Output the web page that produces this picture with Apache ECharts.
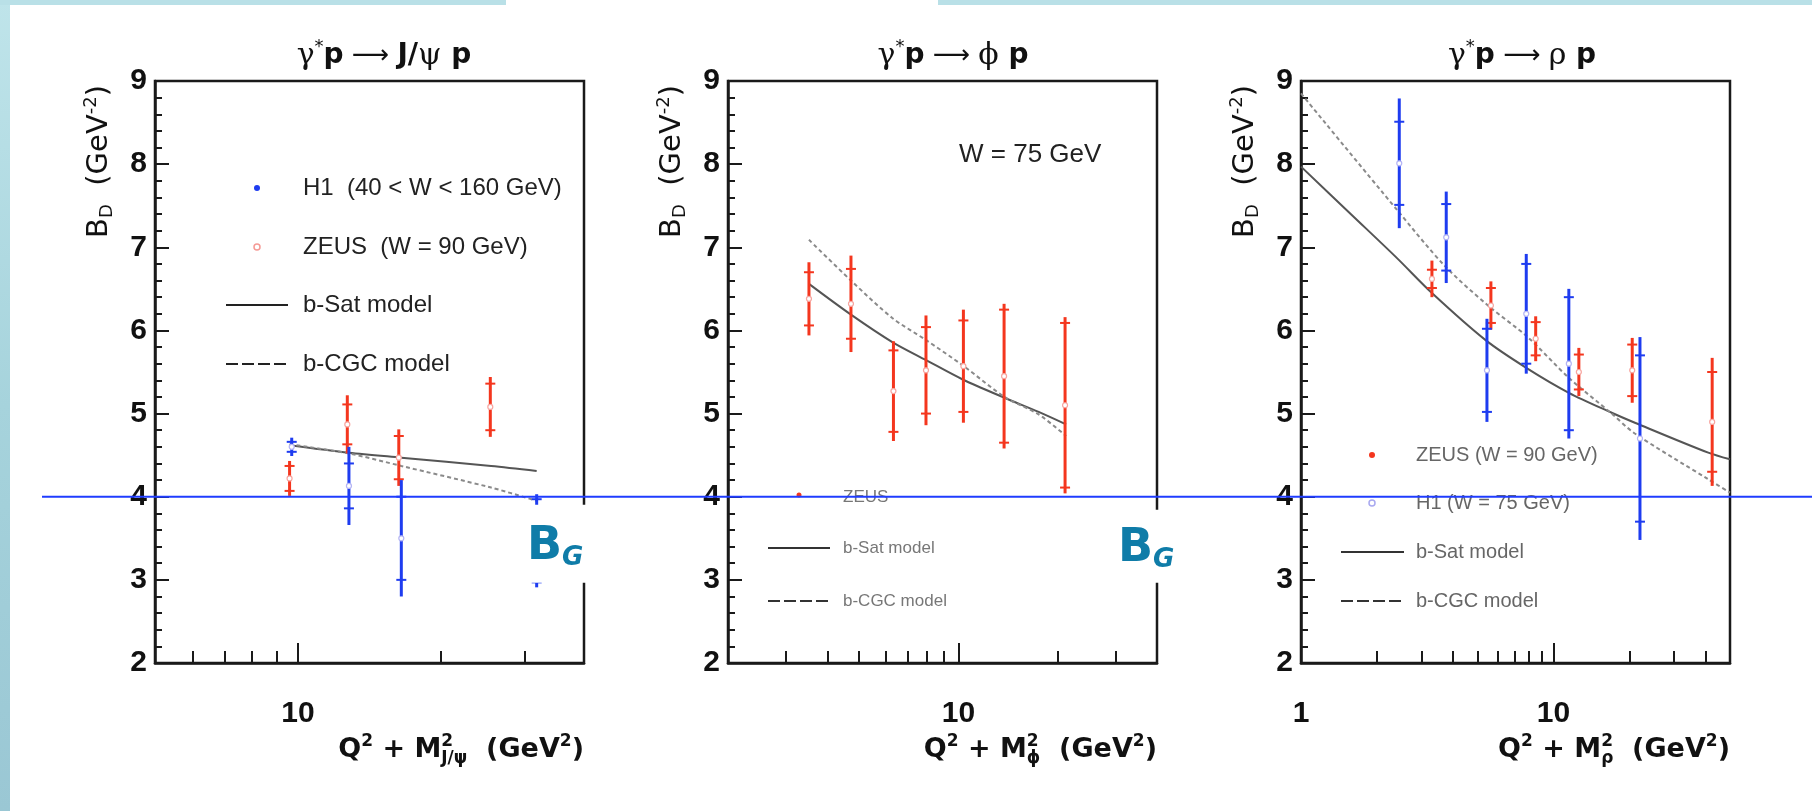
<!DOCTYPE html>
<html><head><meta charset="utf-8">
<script src="https://cdn.jsdelivr.net/npm/echarts@6/dist/echarts.min.js"></script>
<style>html,body{margin:0;padding:0;background:#fff;}#c{width:1812px;height:811px;}</style>
</head><body><div id="c"></div>
<script>
// ---------- axes / ticks ----------
const X_RANGE_JPSI = [5, 40];
const X_RANGE_PHI = [2, 40];
const X_RANGE_RHO = [1, 50];
const Y_RANGE = [2, 9];
const minorTicksJpsi = [6, 7, 8, 9, 20, 30];
const minorTicksPhi = [3, 4, 5, 6, 7, 8, 9, 20, 30];
const minorTicksRho = [2, 3, 4, 5, 6, 7, 8, 9, 20, 30, 40];
const majorTicks = [10];
const xLabelsJpsi = [10];
const xLabelsPhi = [10];
const xLabelsRho = [1, 10];
const BG_LEVEL = 4;

// ---------- J/psi ----------
const jpsiH1X = [9.7, 12.8, 16.5, 31.8];
const jpsiH1Y = [4.60, 4.13, 3.50, 3.47];
const jpsiH1Stat = [0.06, 0.27, 0.50, 0.50];
const jpsiH1Tot = [0.11, 0.47, 0.70, 0.56];
const jpsiZeusX = [9.6, 12.7, 16.3, 25.4];
const jpsiZeusY = [4.22, 4.87, 4.47, 5.08];
const jpsiZeusStat = [0.15, 0.24, 0.26, 0.28];
const jpsiZeusTot = [0.21, 0.35, 0.34, 0.36];
const jpsiModelX = [9.6, 12.8, 16.5, 25.5, 31.8];
const jpsiSat = [4.62, 4.53, 4.47, 4.37, 4.31];
const jpsiCgc = [4.63, 4.52, 4.37, 4.11, 3.95];

// ---------- phi ----------
const phiZeusX = [3.52, 4.72, 6.35, 7.97, 10.35, 13.75, 21.05];
const phiZeusY = [6.38, 6.32, 5.27, 5.52, 5.57, 5.45, 5.10];
const phiZeusStat = [0.32, 0.42, 0.49, 0.52, 0.55, 0.80, 0.99];
const phiZeusTot = [0.44, 0.58, 0.60, 0.66, 0.68, 0.87, 1.06];
const phiModelX = [3.52, 4.72, 6.3, 8.0, 10.3, 13.8, 17.5, 21.2];
const phiSat = [6.56, 6.19, 5.86, 5.64, 5.41, 5.19, 5.02, 4.87];
const phiCgc = [7.09, 6.60, 6.15, 5.88, 5.58, 5.20, 4.99, 4.73];

// ---------- rho ----------
const rhoH1X = [2.45, 3.76, 5.45, 7.8, 11.5, 22];
const rhoH1Y = [8.01, 7.12, 5.52, 6.20, 5.60, 4.70];
const rhoH1Stat = [0.50, 0.40, 0.50, 0.60, 0.80, 1.00];
const rhoH1Tot = [0.78, 0.55, 0.62, 0.72, 0.90, 1.22];
const rhoZeusX = [3.3, 5.65, 8.5, 12.6, 20.5, 42.5];
const rhoZeusY = [6.62, 6.30, 5.90, 5.50, 5.52, 4.90];
const rhoZeusStat = [0.11, 0.21, 0.20, 0.21, 0.31, 0.60];
const rhoZeusTot = [0.22, 0.29, 0.27, 0.29, 0.39, 0.77];
const rhoSatX = [1, 1.6, 2.4, 3.3, 5.4, 7.8, 11.5, 17, 21, 41, 50];
const rhoSat = [7.97, 7.38, 6.87, 6.45, 5.88, 5.55, 5.25, 5.01, 4.89, 4.53, 4.45];
const rhoCgcX = [1, 2.4, 3.7, 5.5, 7.9, 11.5, 17, 21, 41, 50];
const rhoCgc = [8.85, 7.45, 6.78, 6.30, 5.92, 5.43, 5.00, 4.76, 4.21, 4.05];

// ---------- text ----------
const titles = [
  '{g|γ}{s|*}{b|p}{a| ⟶ }{b|J/}{g|ψ}{b| p}',
  '{g|γ}{s|*}{b|p}{a| ⟶ }{g|ϕ}{b| p}',
  '{g|γ}{s|*}{b|p}{a| ⟶ }{g|ρ}{b| p}'
];
const xTitles = [
  '{n|Q}{sp|2}{n| + M}{sz|2}{sb|J/ψ}{n|  (GeV}{sp|2}{n|)}',
  '{n|Q}{sp|2}{n| + M}{sz|2}{sb|ϕ}{n|  (GeV}{sp|2}{n|)}',
  '{n|Q}{sp|2}{n| + M}{sz|2}{sb|ρ}{n|  (GeV}{sp|2}{n|)}'
];
const yTitle = '{n|B}{sb|D}{n|  (GeV}{sp|-2}{n|)}';

// ---------- layout ----------
const GRIDS = [{left: 155, width: 429}, {left: 728, width: 429}, {left: 1301, width: 429}];
const TOP = 81, HEIGHT = 582;
const RED = '#f4361e', BLUE = '#1e3cf0', AX = '#1a1a1a';
const FF = '"Liberation Sans", Arial, sans-serif';
const DV = '"DejaVu Sans", sans-serif';

const chart = echarts.init(document.getElementById('c'), null, {renderer: 'canvas'});

function errSeries(gi, xs, ys, st, tt, color, ring) {
  return {
    type: 'custom', xAxisIndex: gi, yAxisIndex: gi, z: 5,
    data: xs.map((x, i) => [x, ys[i], st[i], tt[i]]),
    renderItem(params, api) {
      const x = api.value(0), y = api.value(1), s = api.value(2), t = api.value(3);
      const top = api.coord([x, y + t]), bot = api.coord([x, y - t]);
      const s1 = api.coord([x, y + s]), s2 = api.coord([x, y - s]), c = api.coord([x, y]);
      const ls = {stroke: color, lineWidth: 2};
      return {type: 'group', children: [
        {type: 'line', shape: {x1: top[0], y1: top[1], x2: bot[0], y2: bot[1]}, style: {stroke: color, lineWidth: 3}},
        {type: 'line', shape: {x1: s1[0] - 5, y1: s1[1], x2: s1[0] + 5, y2: s1[1]}, style: ls},
        {type: 'line', shape: {x1: s2[0] - 5, y1: s2[1], x2: s2[0] + 5, y2: s2[1]}, style: ls},
        {type: 'circle', shape: {cx: c[0], cy: c[1], r: 2.5}, style: {fill: '#fff', stroke: ring, lineWidth: 1.2}}
      ]};
    }
  };
}
function lineSeries(gi, xs, ys, dashed) {
  return {
    type: 'line', xAxisIndex: gi, yAxisIndex: gi, smooth: 0.3, showSymbol: false, silent: true, z: 3,
    data: xs.map((x, i) => [x, ys[i]]),
    lineStyle: dashed ? {color: '#8a8a8a', width: 2, type: [4, 3]} : {color: '#555', width: 2}
  };
}

const ranges = [X_RANGE_JPSI, X_RANGE_PHI, X_RANGE_RHO];
const minors = [minorTicksJpsi, minorTicksPhi, minorTicksRho];
const labels = [xLabelsJpsi, xLabelsPhi, xLabelsRho];

const grid = GRIDS.map(g => ({left: g.left, width: g.width, top: TOP, height: HEIGHT, show: true,
  borderColor: AX, borderWidth: 2.5, backgroundColor: 'transparent', containLabel: false}));

const xAxis = [];
for (let i = 0; i < 3; i++) {
  xAxis.push({type: 'log', logBase: 10, gridIndex: i, position: 'bottom', min: ranges[i][0], max: ranges[i][1],
    axisLine: {show: true, onZero: false, lineStyle: {color: AX, width: 2.5}},
    axisTick: {show: true, inside: true, length: 20, customValues: majorTicks, lineStyle: {color: AX, width: 2}},
    minorTick: {show: false}, splitLine: {show: false},
    axisLabel: {show: true, customValues: labels[i], showMinLabel: true, margin: 36,
      fontSize: 30, fontWeight: 'bold', color: '#111', fontFamily: FF, formatter: v => String(Math.round(v))}
  });
}
for (let i = 0; i < 3; i++) {
  xAxis.push({type: 'log', logBase: 10, gridIndex: i, position: 'bottom', offset: 0, min: ranges[i][0], max: ranges[i][1],
    axisLine: {show: false, onZero: false},
    axisTick: {show: true, inside: true, length: 12, customValues: minors[i], lineStyle: {color: AX, width: 2}},
    axisLabel: {show: false}, splitLine: {show: false}, minorTick: {show: false}
  });
}
const yAxis = [0, 1, 2].map(i => ({type: 'value', gridIndex: i, min: Y_RANGE[0], max: Y_RANGE[1], interval: 1,
  axisLine: {show: true, lineStyle: {color: AX, width: 2.5}},
  axisTick: {show: true, inside: true, length: 14, lineStyle: {color: AX, width: 2}},
  minorTick: {show: true, splitNumber: 5, length: 7, lineStyle: {color: AX, width: 2}},
  splitLine: {show: false},
  axisLabel: {fontSize: 30, fontWeight: 'bold', color: '#111', margin: 8, fontFamily: FF}
}));

const series = [
  lineSeries(0, jpsiModelX, jpsiSat, false),
  lineSeries(0, jpsiModelX, jpsiCgc, true),
  errSeries(0, jpsiZeusX, jpsiZeusY, jpsiZeusStat, jpsiZeusTot, RED, '#f7a5a0'),
  errSeries(0, jpsiH1X, jpsiH1Y, jpsiH1Stat, jpsiH1Tot, BLUE, '#b4b4f4'),
  lineSeries(1, phiModelX, phiSat, false),
  lineSeries(1, phiModelX, phiCgc, true),
  errSeries(1, phiZeusX, phiZeusY, phiZeusStat, phiZeusTot, RED, '#f7a5a0'),
  lineSeries(2, rhoSatX, rhoSat, false),
  lineSeries(2, rhoCgcX, rhoCgc, true),
  errSeries(2, rhoZeusX, rhoZeusY, rhoZeusStat, rhoZeusTot, RED, '#f7a5a0'),
  errSeries(2, rhoH1X, rhoH1Y, rhoH1Stat, rhoH1Tot, BLUE, '#b4b4f4')
];

chart.setOption({backgroundColor: '#fff', animation: false, grid, xAxis, yAxis, series});

// ---------- decorations ----------
const y4 = chart.convertToPixel({yAxisIndex: 0}, BG_LEVEL);
const titleRich = {
  g: {font: '30px "DejaVu Serif", serif', fill: '#111', lineHeight: 36},
  s: {font: '18px ' + DV, fill: '#111', verticalAlign: 'top', lineHeight: 16},
  b: {font: 'bold 28px ' + DV, fill: '#111', lineHeight: 36},
  a: {font: '26px ' + DV, fill: '#111', lineHeight: 36}
};
const xtRich = {
  n: {font: 'bold 27px ' + DV, fill: '#111', lineHeight: 34, align: 'left'},
  sp: {font: 'bold 17px ' + DV, fill: '#111', verticalAlign: 'top', lineHeight: 16, align: 'left'},
  sz: {font: 'bold 17px ' + DV, fill: '#111', verticalAlign: 'top', lineHeight: 16, width: 0, align: 'left'},
  sb: {font: 'bold 17px ' + DV, fill: '#111', verticalAlign: 'bottom', lineHeight: 14, align: 'left'}
};
const ytRich = {
  n: {font: '29px ' + DV, fill: '#111', lineHeight: 34},
  sp: {font: '18px ' + DV, fill: '#111', verticalAlign: 'top', lineHeight: 16},
  sb: {font: '18px ' + DV, fill: '#111', verticalAlign: 'bottom', lineHeight: 15}
};
const titleX = [384, 953, 1522];
const els = [];
// slide background strips
els.push({type: 'rect', shape: {x: 0, y: 0, width: 10, height: 811}, z: 1,
  style: {fill: new echarts.graphic.LinearGradient(0, 0, 0, 1, [{offset: 0, color: '#bfe4ea'}, {offset: 0.5, color: '#a6d3dc'}, {offset: 1, color: '#9ac7d4'}])}});
els.push({type: 'rect', shape: {x: 0, y: 0, width: 506, height: 5}, z: 1, style: {fill: '#b9e0e7'}});
els.push({type: 'rect', shape: {x: 938, y: 0, width: 874, height: 5}, z: 1, style: {fill: '#b9e0e7'}});
for (let i = 0; i < 3; i++) {
  const g = GRIDS[i];
  els.push({type: 'text', x: titleX[i], y: 56, z: 20, style: {text: titles[i], rich: titleRich, align: 'center', verticalAlign: 'middle'}});
  els.push({type: 'text', x: g.left + g.width, y: 750, z: 20, style: {text: xTitles[i], rich: xtRich, align: 'right', verticalAlign: 'middle'}});
  els.push({type: 'text', x: g.left - 56, y: 85, rotation: Math.PI / 2, z: 20, style: {text: yTitle, rich: ytRich, align: 'right', verticalAlign: 'middle'}});
}
// legend plot 1
const L1 = {font: '24px ' + FF, fill: '#222'};
els.push({type: 'circle', shape: {cx: 257, cy: 188, r: 3}, z: 20, style: {fill: BLUE}});
els.push({type: 'text', x: 303, y: 188, z: 20, style: Object.assign({text: 'H1  (40 < W < 160 GeV)', verticalAlign: 'middle'}, L1)});
els.push({type: 'circle', shape: {cx: 257, cy: 247, r: 3}, z: 20, style: {fill: '#fff', stroke: '#f59a95', lineWidth: 1.5}});
els.push({type: 'text', x: 303, y: 247, z: 20, style: Object.assign({text: 'ZEUS  (W = 90 GeV)', verticalAlign: 'middle'}, L1)});
els.push({type: 'line', shape: {x1: 226, y1: 305, x2: 288, y2: 305}, z: 20, style: {stroke: '#222', lineWidth: 2}});
els.push({type: 'text', x: 303, y: 305, z: 20, style: Object.assign({text: 'b-Sat model', verticalAlign: 'middle'}, L1)});
els.push({type: 'line', shape: {x1: 226, y1: 364, x2: 288, y2: 364}, z: 20, style: {stroke: '#222', lineWidth: 2, lineDash: [12, 4]}});
els.push({type: 'text', x: 303, y: 364, z: 20, style: Object.assign({text: 'b-CGC model', verticalAlign: 'middle'}, L1)});
// legend plot 2
const L2 = {font: '17px ' + FF, fill: '#777'};
els.push({type: 'text', x: 959, y: 155, z: 20, style: {text: 'W = 75 GeV', font: '26px ' + FF, fill: '#222', verticalAlign: 'middle'}});
els.push({type: 'circle', shape: {cx: 799, cy: 495, r: 2.5}, z: 20, style: {fill: RED}});
els.push({type: 'text', x: 843, y: 497, z: 20, style: Object.assign({text: 'ZEUS', verticalAlign: 'middle'}, L2)});
els.push({type: 'line', shape: {x1: 768, y1: 548, x2: 830, y2: 548}, z: 20, style: {stroke: '#333', lineWidth: 2}});
els.push({type: 'text', x: 843, y: 548, z: 20, style: Object.assign({text: 'b-Sat model', verticalAlign: 'middle'}, L2)});
els.push({type: 'line', shape: {x1: 768, y1: 601, x2: 830, y2: 601}, z: 20, style: {stroke: '#333', lineWidth: 2, lineDash: [12, 4]}});
els.push({type: 'text', x: 843, y: 601, z: 20, style: Object.assign({text: 'b-CGC model', verticalAlign: 'middle'}, L2)});
// legend plot 3
const L3 = {font: '20px ' + FF, fill: '#666'};
els.push({type: 'circle', shape: {cx: 1372, cy: 455, r: 3}, z: 20, style: {fill: RED}});
els.push({type: 'text', x: 1416, y: 455, z: 20, style: Object.assign({text: 'ZEUS (W = 90 GeV)', verticalAlign: 'middle'}, L3)});
els.push({type: 'circle', shape: {cx: 1372, cy: 503, r: 3}, z: 20, style: {fill: '#fff', stroke: '#a9a9f0', lineWidth: 1.5}});
els.push({type: 'text', x: 1416, y: 503, z: 20, style: Object.assign({text: 'H1 (W = 75 GeV)', verticalAlign: 'middle'}, L3)});
els.push({type: 'line', shape: {x1: 1341, y1: 552, x2: 1404, y2: 552}, z: 20, style: {stroke: '#333', lineWidth: 2}});
els.push({type: 'text', x: 1416, y: 552, z: 20, style: Object.assign({text: 'b-Sat model', verticalAlign: 'middle'}, L3)});
els.push({type: 'line', shape: {x1: 1341, y1: 601, x2: 1404, y2: 601}, z: 20, style: {stroke: '#333', lineWidth: 2, lineDash: [12, 4]}});
els.push({type: 'text', x: 1416, y: 601, z: 20, style: Object.assign({text: 'b-CGC model', verticalAlign: 'middle'}, L3)});
// B_G level line and labels
els.push({type: 'line', shape: {x1: 42, y1: y4, x2: 1812, y2: y4}, z: 90, style: {stroke: '#1f3cff', lineWidth: 2}});
const bgRich = {
  B: {font: 'bold 46px "DejaVu Sans"', fill: '#0f7ca8', lineHeight: 50},
  G: {font: 'italic bold 26px "DejaVu Sans"', fill: '#0f7ca8', verticalAlign: 'bottom', lineHeight: 28}
};
els.push({type: 'rect', shape: {x: 524, y: y4 + 8, width: 76, height: 78}, z: 95, style: {fill: '#fff'}});
els.push({type: 'text', x: 527, y: y4 + 50, z: 96, style: {text: '{B|B}{G|G}', rich: bgRich, verticalAlign: 'middle'}});
els.push({type: 'rect', shape: {x: 1104, y: y4 + 13, width: 76, height: 73}, z: 95, style: {fill: '#fff'}});
els.push({type: 'text', x: 1118, y: y4 + 52, z: 96, style: {text: '{B|B}{G|G}', rich: bgRich, verticalAlign: 'middle'}});

chart.setOption({graphic: {elements: els}});
</script></body></html>
